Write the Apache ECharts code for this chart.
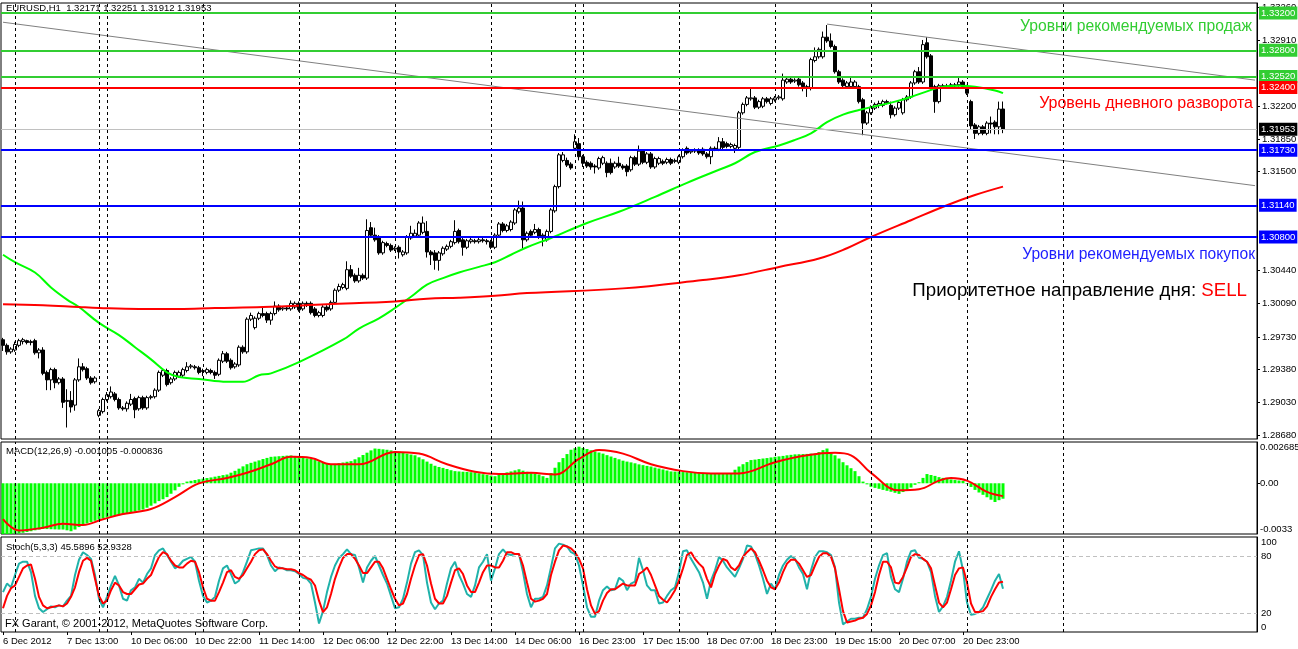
<!DOCTYPE html>
<html>
<head>
<meta charset="utf-8">
<script src="https://cdn.jsdelivr.net/npm/echarts@6/dist/echarts.min.js"></script>
<style>
  html, body { margin: 0; padding: 0; background: #fff; }
  #app { width: 1298px; height: 649px; }
</style>
</head>
<body>
<div id="app"></div>
<script>
// bottom time labels, one every 16 hourly bars
const tickLabels = ['6 Dec 2012', '7 Dec 13:00', '10 Dec 06:00', '10 Dec 22:00', '11 Dec 14:00',
  '12 Dec 06:00', '12 Dec 22:00', '13 Dec 14:00', '14 Dec 06:00', '16 Dec 23:00', '17 Dec 15:00',
  '18 Dec 07:00', '18 Dec 23:00', '19 Dec 15:00', '20 Dec 07:00', '20 Dec 23:00'];
// bar index of each day separator
const daySeparators = [3, 24, 26, 50, 74, 98, 122, 143, 145, 169, 193, 217, 241, 265];
const priceTicks = [1.3326, 1.3291, 1.3220, 1.3185, 1.3150, 1.3044, 1.3009, 1.2973, 1.2938, 1.2903, 1.2868];

const sellLevels = [1.3320, 1.3280, 1.3252];
const pivotLevel = 1.3240;
const buyLevels = [1.3173, 1.3114, 1.3080];
const lastPrice = 1.31953;

// EURUSD H1: [open, close, low, high]
const candles = [
  [1.2970,1.2964,1.2958,1.2972],[1.2964,1.2957,1.2954,1.2966],[1.2957,1.2960,1.2955,1.2962],[1.2959,1.2965,1.2957,1.2968],[1.2964,1.2969,1.2962,1.2971],
  [1.2968,1.2970,1.2965,1.2972],[1.2969,1.2967,1.2965,1.2970],[1.2967,1.2968,1.2964,1.2970],[1.2969,1.2956,1.2954,1.2971],[1.2956,1.2959,1.2950,1.2961],
  [1.2959,1.2934,1.2932,1.2962],[1.2935,1.2927,1.2916,1.2937],[1.2927,1.2938,1.2916,1.2940],[1.2938,1.2924,1.2918,1.2940],[1.2924,1.2928,1.2922,1.2930],
  [1.2928,1.2903,1.2897,1.2930],[1.2904,1.2905,1.2876,1.2917],[1.2905,1.2898,1.2892,1.2915],[1.2900,1.2927,1.2894,1.2929],[1.2927,1.2941,1.2925,1.2950],
  [1.2941,1.2938,1.2936,1.2945],[1.2939,1.2929,1.2927,1.2941],[1.2929,1.2924,1.2922,1.2931],[1.2925,1.2929,1.2923,1.2931],[1.2889,1.2894,1.2887,1.2896],
  [1.2893,1.2906,1.2891,1.2908],[1.2906,1.2911,1.2904,1.2914],[1.2909,1.2914,1.2907,1.2920],[1.2912,1.2906,1.2904,1.2914],[1.2906,1.2897,1.2895,1.2908],
  [1.2897,1.2896,1.2894,1.2899],[1.2896,1.2902,1.2893,1.2904],[1.2901,1.2906,1.2899,1.2912],[1.2907,1.2895,1.2886,1.2909],[1.2896,1.2908,1.2894,1.2910],
  [1.2908,1.2897,1.2895,1.2910],[1.2897,1.2908,1.2895,1.2910],[1.2908,1.2909,1.2906,1.2911],[1.2909,1.2916,1.2907,1.2918],[1.2916,1.2935,1.2914,1.2937],
  [1.2932,1.2937,1.2930,1.2939],[1.2937,1.2922,1.2920,1.2939],[1.2924,1.2928,1.2922,1.2930],[1.2928,1.2935,1.2926,1.2937],[1.2931,1.2935,1.2929,1.2937],
  [1.2932,1.2938,1.2930,1.2940],[1.2937,1.2941,1.2935,1.2946],[1.2941,1.2942,1.2939,1.2944],[1.2941,1.2940,1.2938,1.2943],[1.2940,1.2935,1.2933,1.2942],
  [1.2936,1.2937,1.2931,1.2939],[1.2935,1.2938,1.2933,1.2940],[1.2937,1.2935,1.2933,1.2939],[1.2935,1.2932,1.2928,1.2937],[1.2933,1.2948,1.2931,1.2950],
  [1.2947,1.2955,1.2945,1.2958],[1.2955,1.2947,1.2945,1.2957],[1.2948,1.2940,1.2938,1.2950],[1.2941,1.2944,1.2939,1.2946],[1.2943,1.2962,1.2941,1.2964],
  [1.2962,1.2957,1.2955,1.2964],[1.2957,1.2992,1.2955,1.2994],[1.2992,1.2996,1.2990,1.2999],[1.2983,1.2993,1.2981,1.2995],[1.2993,1.2998,1.2991,1.3000],
  [1.2998,1.2996,1.2994,1.3006],[1.2998,1.2991,1.2988,1.3000],[1.2991,1.2998,1.2986,1.3000],[1.2998,1.3006,1.2996,1.3011],[1.3006,1.3002,1.3000,1.3008],
  [1.3003,1.3004,1.3001,1.3006],[1.3004,1.3003,1.3001,1.3006],[1.3003,1.3009,1.3001,1.3012],[1.3005,1.3009,1.3003,1.3011],[1.3009,1.3002,1.3000,1.3011],
  [1.3003,1.3009,1.3001,1.3011],[1.3009,1.3007,1.3005,1.3011],[1.3009,1.2999,1.2997,1.3011],[1.3003,1.2996,1.2994,1.3005],[1.2996,1.2999,1.2994,1.3001],
  [1.2996,1.3005,1.2994,1.3007],[1.3005,1.3002,1.3000,1.3007],[1.3003,1.3010,1.3001,1.3012],[1.3010,1.3023,1.3008,1.3025],[1.3023,1.3027,1.3021,1.3030],
  [1.3026,1.3029,1.3024,1.3031],[1.3025,1.3045,1.3023,1.3054],[1.3045,1.3038,1.3036,1.3050],[1.3039,1.3033,1.3031,1.3041],[1.3033,1.3039,1.3031,1.3047],
  [1.3039,1.3036,1.3034,1.3041],[1.3036,1.3087,1.3034,1.3099],[1.3090,1.3082,1.3080,1.3096],[1.3082,1.3077,1.3075,1.3090],[1.3080,1.3063,1.3061,1.3082],
  [1.3063,1.3074,1.3061,1.3076],[1.3073,1.3071,1.3069,1.3075],[1.3071,1.3066,1.3064,1.3073],[1.3067,1.3068,1.3065,1.3070],[1.3069,1.3064,1.3057,1.3071],
  [1.3061,1.3064,1.3059,1.3066],[1.3063,1.3080,1.3061,1.3082],[1.3079,1.3084,1.3077,1.3092],[1.3081,1.3084,1.3079,1.3088],[1.3082,1.3095,1.3080,1.3097],
  [1.3085,1.3095,1.3083,1.3102],[1.3086,1.3064,1.3058,1.3097],[1.3064,1.3061,1.3050,1.3066],[1.3063,1.3055,1.3045,1.3066],[1.3055,1.3063,1.3044,1.3065],
  [1.3062,1.3068,1.3060,1.3070],[1.3067,1.3070,1.3065,1.3072],[1.3070,1.3075,1.3068,1.3077],[1.3074,1.3086,1.3072,1.3098],[1.3087,1.3075,1.3073,1.3089],
  [1.3077,1.3069,1.3060,1.3079],[1.3069,1.3076,1.3067,1.3078],[1.3075,1.3077,1.3073,1.3079],[1.3076,1.3075,1.3073,1.3078],[1.3075,1.3077,1.3073,1.3079],
  [1.3077,1.3076,1.3074,1.3079],[1.3076,1.3075,1.3072,1.3078],[1.3075,1.3069,1.3067,1.3077],[1.3069,1.3082,1.3067,1.3084],[1.3082,1.3094,1.3080,1.3096],
  [1.3094,1.3087,1.3085,1.3096],[1.3087,1.3092,1.3085,1.3094],[1.3088,1.3096,1.3086,1.3098],[1.3095,1.3109,1.3093,1.3111],[1.3107,1.3111,1.3105,1.3119],
  [1.3111,1.3077,1.3068,1.3118],[1.3077,1.3084,1.3075,1.3086],[1.3086,1.3082,1.3080,1.3088],[1.3085,1.3088,1.3083,1.3094],[1.3088,1.3080,1.3078,1.3090],
  [1.3082,1.3079,1.3070,1.3084],[1.3077,1.3086,1.3075,1.3088],[1.3086,1.3109,1.3084,1.3111],[1.3108,1.3134,1.3106,1.3136],[1.3134,1.3168,1.3132,1.3170],
  [1.3162,1.3168,1.3160,1.3171],[1.3162,1.3157,1.3155,1.3165],[1.3158,1.3154,1.3152,1.3160],[1.3175,1.3182,1.3173,1.3190],[1.3180,1.3166,1.3162,1.3186],
  [1.3166,1.3159,1.3155,1.3168],[1.3160,1.3156,1.3154,1.3162],[1.3159,1.3155,1.3152,1.3161],[1.3156,1.3155,1.3148,1.3158],[1.3154,1.3164,1.3152,1.3166],
  [1.3159,1.3165,1.3157,1.3167],[1.3159,1.3149,1.3144,1.3161],[1.3159,1.3149,1.3147,1.3164],[1.3155,1.3159,1.3153,1.3161],[1.3159,1.3156,1.3154,1.3166],
  [1.3156,1.3154,1.3152,1.3158],[1.3156,1.3150,1.3145,1.3158],[1.3152,1.3165,1.3150,1.3167],[1.3165,1.3158,1.3156,1.3167],[1.3158,1.3172,1.3156,1.3178],
  [1.3172,1.3160,1.3158,1.3174],[1.3160,1.3169,1.3158,1.3171],[1.3169,1.3155,1.3153,1.3171],[1.3155,1.3164,1.3153,1.3166],[1.3159,1.3164,1.3157,1.3166],
  [1.3161,1.3159,1.3157,1.3163],[1.3160,1.3163,1.3158,1.3165],[1.3163,1.3159,1.3157,1.3165],[1.3161,1.3162,1.3159,1.3164],[1.3160,1.3166,1.3158,1.3168],
  [1.3166,1.3173,1.3164,1.3175],[1.3175,1.3170,1.3168,1.3177],[1.3171,1.3172,1.3169,1.3174],[1.3172,1.3173,1.3170,1.3175],[1.3173,1.3170,1.3168,1.3175],
  [1.3174,1.3169,1.3167,1.3176],[1.3169,1.3166,1.3164,1.3171],[1.3166,1.3175,1.3158,1.3177],[1.3175,1.3174,1.3172,1.3177],[1.3174,1.3182,1.3172,1.3187],
  [1.3182,1.3176,1.3174,1.3186],[1.3180,1.3177,1.3175,1.3182],[1.3177,1.3179,1.3175,1.3181],[1.3175,1.3178,1.3170,1.3180],[1.3176,1.3213,1.3174,1.3215],
  [1.3213,1.3222,1.3211,1.3224],[1.3222,1.3229,1.3220,1.3231],[1.3228,1.3229,1.3226,1.3240],[1.3229,1.3219,1.3217,1.3231],[1.3219,1.3225,1.3217,1.3227],
  [1.3220,1.3228,1.3218,1.3230],[1.3228,1.3225,1.3223,1.3230],[1.3223,1.3228,1.3221,1.3230],[1.3227,1.3229,1.3225,1.3231],[1.3229,1.3230,1.3227,1.3232],
  [1.3228,1.3248,1.3226,1.3255],[1.3246,1.3249,1.3244,1.3251],[1.3249,1.3246,1.3244,1.3251],[1.3247,1.3248,1.3245,1.3250],[1.3249,1.3243,1.3241,1.3251],
  [1.3245,1.3241,1.3236,1.3247],[1.3241,1.3239,1.3230,1.3243],[1.3239,1.3270,1.3237,1.3272],[1.3269,1.3273,1.3267,1.3283],[1.3273,1.3281,1.3271,1.3283],
  [1.3273,1.3294,1.3271,1.3300],[1.3294,1.3290,1.3288,1.3307],[1.3290,1.3284,1.3282,1.3298],[1.3284,1.3257,1.3255,1.3286],[1.3257,1.3246,1.3244,1.3259],
  [1.3248,1.3242,1.3240,1.3250],[1.3241,1.3245,1.3239,1.3247],[1.3241,1.3246,1.3239,1.3252],[1.3241,1.3246,1.3239,1.3248],[1.3241,1.3225,1.3223,1.3243],
  [1.3227,1.3202,1.3189,1.3229],[1.3202,1.3213,1.3200,1.3215],[1.3213,1.3219,1.3211,1.3221],[1.3218,1.3222,1.3216,1.3224],[1.3221,1.3223,1.3218,1.3226],
  [1.3221,1.3225,1.3219,1.3227],[1.3225,1.3224,1.3222,1.3227],[1.3221,1.3211,1.3207,1.3225],[1.3211,1.3218,1.3209,1.3220],[1.3218,1.3224,1.3216,1.3226],
  [1.3213,1.3227,1.3211,1.3229],[1.3227,1.3230,1.3225,1.3232],[1.3230,1.3245,1.3228,1.3247],[1.3245,1.3257,1.3243,1.3259],[1.3257,1.3246,1.3244,1.3262],
  [1.3246,1.3286,1.3244,1.3291],[1.3288,1.3273,1.3271,1.3294],[1.3274,1.3240,1.3238,1.3276],[1.3241,1.3225,1.3213,1.3243],[1.3225,1.3242,1.3223,1.3244],
  [1.3242,1.3241,1.3239,1.3244],[1.3241,1.3242,1.3239,1.3244],[1.3241,1.3243,1.3239,1.3245],[1.3242,1.3243,1.3240,1.3245],[1.3243,1.3246,1.3241,1.3251],
  [1.3246,1.3241,1.3239,1.3248],[1.3241,1.3234,1.3232,1.3243],[1.3225,1.3199,1.3195,1.3227],[1.3200,1.3191,1.3185,1.3202],[1.3191,1.3198,1.3189,1.3200],
  [1.3198,1.3191,1.3189,1.3200],[1.3191,1.3202,1.3189,1.3204],[1.3202,1.3201,1.3191,1.3209],[1.3203,1.3198,1.3190,1.3205],[1.3198,1.3217,1.3190,1.3225],
  [1.32171,1.31953,1.31912,1.32251]
];

// moving averages, read at [bar, price]
const maFast = [[0,1.3061],[3,1.3053],[8,1.3042],[12,1.3026],[16,1.3013],[19,1.3005],[24,1.2988],[29,1.2975],[33,1.2962],
  [37,1.2949],[41,1.2935],[44,1.2930],[49,1.2928],[56,1.2925],[60,1.2925],[64,1.2932],[67,1.2934],[74,1.2946],[85,1.2970],
  [89,1.2982],[94,1.2993],[98,1.3004],[102,1.3016],[106,1.3029],[110,1.3036],[114,1.3042],[119,1.3048],[123,1.3053],
  [127,1.3061],[131,1.3069],[137,1.3079],[146,1.3095],[154,1.3107],[163,1.3123],[171,1.3138],[179,1.3152],[183,1.3159],
  [188,1.3171],[194,1.3178],[198,1.3184],[202,1.3191],[206,1.3203],[210,1.3211],[214,1.3216],[218,1.3220],[223,1.3225],
  [227,1.3230],[231,1.3236],[235,1.3241],[239,1.3242],[243,1.3241],[248,1.3237],[250,1.3234]];
const maSlow = [[0,1.3008],[10,1.3007],[19,1.3005],[24,1.3004],[34,1.3003],[44,1.3003],[53,1.3004],[65,1.3005],[81,1.3008],
  [98,1.3011],[106,1.3014],[114,1.3015],[123,1.3017],[131,1.3020],[155,1.3025],[175,1.3034],[184,1.3039],[194,1.3048],
  [204,1.3057],[211,1.3068],[217,1.3080],[227,1.3098],[236,1.3114],[243,1.3125],[250,1.3134]];

// trend lines [bar, price]
const trendLow = [[0, 1.3310], [313, 1.3135]];
const trendHigh = [[206, 1.3308], [313, 1.3248]];

// MACD(12,26,9) histogram, one value per bar
const macdHist = [
  -0.00330,-0.00331,-0.00330,-0.00328,-0.00327,-0.00322,-0.00317,-0.00312,-0.00306,-0.00301,
  -0.00297,-0.00298,-0.00299,-0.00300,-0.00301,-0.00301,-0.00306,-0.00312,-0.00301,-0.00285,
  -0.00270,-0.00261,-0.00253,-0.00244,-0.00236,-0.00228,-0.00222,-0.00217,-0.00213,-0.00208,
  -0.00203,-0.00197,-0.00191,-0.00184,-0.00177,-0.00171,-0.00159,-0.00146,-0.00131,-0.00116,
  -0.00104,-0.00090,-0.00068,-0.00046,-0.00023,-0.00007,0.00011,0.00016,0.00021,0.00026,
  0.00030,0.00034,0.00038,0.00043,0.00048,0.00053,0.00057,0.00069,0.00081,0.00095,
  0.00110,0.00124,0.00133,0.00141,0.00149,0.00158,0.00165,0.00172,0.00174,0.00176,
  0.00178,0.00180,0.00181,0.00178,0.00173,0.00167,0.00162,0.00158,0.00151,0.00143,
  0.00136,0.00130,0.00124,0.00126,0.00131,0.00135,0.00140,0.00144,0.00156,0.00169,
  0.00184,0.00199,0.00214,0.00226,0.00224,0.00221,0.00218,0.00214,0.00210,0.00205,
  0.00199,0.00193,0.00187,0.00182,0.00169,0.00156,0.00141,0.00127,0.00114,0.00106,
  0.00100,0.00093,0.00085,0.00079,0.00077,0.00075,0.00074,0.00072,0.00071,0.00065,
  0.00059,0.00054,0.00050,0.00046,0.00054,0.00062,0.00071,0.00077,0.00084,0.00091,
  0.00082,0.00075,0.00069,0.00062,0.00057,0.00046,0.00035,0.00067,0.00101,0.00137,
  0.00164,0.00190,0.00218,0.00228,0.00238,0.00230,0.00223,0.00215,0.00207,0.00200,
  0.00193,0.00183,0.00174,0.00165,0.00156,0.00147,0.00141,0.00136,0.00130,0.00123,
  0.00118,0.00113,0.00109,0.00102,0.00096,0.00090,0.00083,0.00077,0.00076,0.00075,
  0.00073,0.00072,0.00071,0.00070,0.00069,0.00068,0.00065,0.00064,0.00064,0.00064,
  0.00064,0.00064,0.00064,0.00088,0.00109,0.00124,0.00138,0.00151,0.00154,0.00158,
  0.00161,0.00164,0.00168,0.00172,0.00175,0.00178,0.00182,0.00185,0.00188,0.00189,
  0.00190,0.00191,0.00193,0.00193,0.00203,0.00216,0.00226,0.00203,0.00182,0.00161,
  0.00137,0.00117,0.00098,0.00079,0.00046,0.00011,-0.00007,-0.00023,-0.00030,-0.00036,
  -0.00043,-0.00049,-0.00055,-0.00062,-0.00069,-0.00057,-0.00044,-0.00028,-0.00010,0.00007,
  0.00035,0.00060,0.00054,0.00048,0.00040,0.00035,0.00030,0.00025,0.00021,0.00018,
  0.00015,-0.00005,-0.00024,-0.00043,-0.00060,-0.00075,-0.00091,-0.00107,-0.00122,-0.00110,
  -0.001005
];
const macdSignal = [[0,-0.00234],[4,-0.00307],[10,-0.00289],[15,-0.00264],[20,-0.00271],[25,-0.00234],[30,-0.00200],
  [37,-0.00167],[43,-0.00090],[49,-0.00001],[56,0.00034],[61,0.00068],[67,0.00124],[72,0.00172],[77,0.00165],
  [82,0.00124],[89,0.00124],[98,0.00204],[104,0.00193],[111,0.00124],[118,0.00075],[124,0.00060],[132,0.00068],
  [138,0.00057],[144,0.00158],[149,0.00216],[155,0.00193],[162,0.00124],[170,0.00079],[177,0.00064],[184,0.00064],
  [193,0.00137],[201,0.00182],[208,0.00198],[212,0.00182],[217,0.00068],[224,-0.00046],[229,-0.00039],[234,0.00017],
  [237,0.00034],[241,0.00017],[246,-0.00056],[250,-0.000836]];

// Stochastic(5,3,3), one value per bar
const stochMain = [
  42,51,47,60,72,74,74,63,38,25, 21,24,27,26,28,27,33,38,60,76,
  84,81,77,60,35,26,37,49,59,49, 35,33,44,47,56,52,61,67,81,86,
  88,81,74,67,70,75,77,79,74,54, 38,31,33,37,54,67,70,61,51,54,
  63,74,86,87,88,88,81,70,64,68, 67,65,65,64,61,57,56,51,31,9,
  22,42,58,70,78,82,87,82,81,68, 52,68,75,80,70,60,51,38,25,26,
  35,52,72,84,86,81,52,31,24,30, 33,51,67,74,60,51,40,37,49,68,
  74,82,54,67,82,87,82,81,82,82, 63,40,26,35,35,37,49,68,88,93,
  92,90,84,82,70,49,26,16,16,33, 44,48,44,45,57,54,44,51,53,78,
  65,49,44,44,30,31,38,44,47,63, 85,86,77,70,63,52,35,54,65,79,
  75,68,63,58,67,77,91,90,82,70, 56,40,51,45,60,70,76,80,77,68,
  61,45,65,79,85,85,84,81,68,31, 8,11,14,14,15,15,24,37,56,70,
  81,83,58,45,42,56,74,85,86,78, 77,74,63,38,21,27,37,54,74,85,
  65,31,18,19,21,26,35,44,54,61, 45.5896
];
const stochSignal = [
  25,38,46,49,58,67,70,71,56,37, 28,25,26,27,28,27,30,37,47,63,
  75,78,75,56,38,30,33,44,52,49, 42,40,40,45,50,51,56,60,70,79,
  84,82,75,70,68,68,72,75,74,63, 47,35,33,33,42,52,63,65,58,56,
  60,67,74,82,86,87,82,75,69,67, 67,66,66,65,62,60,57,55,49,33,
  21,26,40,56,68,78,82,82,77,70, 62,62,68,74,74,67,56,45,35,28,
  30,40,56,70,81,82,70,51,35,30, 30,38,52,65,67,61,49,42,42,52,
  63,70,70,68,68,75,84,84,82,82, 70,52,35,32,33,35,40,60,74,86,
  91,90,88,84,77,67,45,28,19,22, 33,41,45,45,48,51,49,49,49,61,
  64,68,60,49,38,34,31,37,44,54, 67,81,84,77,72,68,56,47,61,70,
  77,75,68,65,70,79,84,88,84,75, 65,54,47,45,52,63,72,76,76,72,
  65,58,60,70,79,83,83,79,67,45, 22,10,11,12,14,15,19,28,42,60,
  74,74,68,52,51,58,68,79,82,81, 77,74,67,49,31,26,31,45,60,67,
  68,52,30,21,21,22,27,37,45,52, 52.9328
];

const FONT = '"Liberation Sans", Arial, sans-serif';
const N = 314; // hourly slots across the plot, including empty space on the right
const cats = [];
for (let i = 0; i < N; i++) cats.push(String(i));
function tickText(i) {
  return i % 16 === 0 && i / 16 < tickLabels.length ? tickLabels[i / 16] : '';
}

const sepData = daySeparators.map((i) => ({ xAxis: i }));
const sepLine = {
  symbol: 'none', silent: true, precision: 6, label: { show: false },
  lineStyle: { color: '#000', width: 1, type: [3, 3] },
};

function levelLine(value, color, text) {
  return {
    yAxis: value,
    lineStyle: { color: color, width: 2, type: 'solid' },
    label: {
      show: true, position: 'end', distance: 2, formatter: text,
      backgroundColor: color, color: '#fff',
      padding: [2, 2, 1, 2], fontSize: 9.5, fontFamily: FONT,
    },
  };
}

const levelData = []
  .concat(sellLevels.map((v) => levelLine(v, '#32cd32', v.toFixed(5))))
  .concat([levelLine(pivotLevel, '#ff0000', pivotLevel.toFixed(5))])
  .concat(buyLevels.map((v) => levelLine(v, '#0000ff', v.toFixed(5))));
const lastLine = levelLine(lastPrice, '#000', lastPrice.toFixed(5));
lastLine.lineStyle = { color: '#c0c0c0', width: 1, type: 'solid' };

const gridBase = { left: 1, width: 1256, show: true, borderColor: '#000', borderWidth: 1, backgroundColor: '#fff', outerBoundsMode: 'none', containLabel: false };

const eChart = echarts.init(document.getElementById('app'));
const option = {
  animation: false,
  backgroundColor: '#fff',
  grid: [
    Object.assign({ top: 3, height: 436 }, gridBase),
    Object.assign({ top: 442, height: 92 }, gridBase),
    Object.assign({ top: 537, height: 95 }, gridBase),
  ],
  xAxis: [0, 1, 2].map((g) => ({
    type: 'category', gridIndex: g, data: cats, boundaryGap: true,
    axisLine: { show: false },
    splitLine: { show: false },
    axisTick: g === 2
      ? { show: true, interval: (i) => tickText(i) !== '', alignWithLabel: true, length: 3, lineStyle: { color: '#000' } }
      : { show: false },
    axisLabel: g === 2
      ? { show: true, interval: (i) => tickText(i) !== '', formatter: (v, i) => tickText(+v), align: 'left', margin: 4,
          fontSize: 9.5, color: '#000', fontFamily: FONT, hideOverlap: false }
      : { show: false },
  })),
  yAxis: [
    {
      type: 'value', gridIndex: 0, position: 'right', min: 1.28637, max: 1.33306, scale: true,
      splitLine: { show: false },
      axisLine: { show: true, lineStyle: { color: '#000' } },
      axisTick: { show: true, customValues: priceTicks, length: 3, lineStyle: { color: '#000' } },
      axisLabel: { customValues: priceTicks, formatter: (v) => v.toFixed(5), fontSize: 9.5, color: '#000', margin: 5, fontFamily: FONT },
    },
    {
      type: 'value', gridIndex: 1, position: 'right', min: -0.0033, max: 0.002685,
      splitLine: { show: false },
      axisLine: { show: true, lineStyle: { color: '#000' } },
      axisTick: { show: true, customValues: [0], length: 3, lineStyle: { color: '#000' } },
      axisLabel: {
        customValues: [-0.0033, 0, 0.002685],
        formatter: (v) => (v === 0 ? '0.00' : v > 0 ? '0.002685' : '-0.0033'),
        verticalAlignMaxLabel: 'top', verticalAlignMinLabel: 'bottom',
        fontSize: 9.5, color: '#000', margin: 3, fontFamily: FONT,
      },
    },
    {
      type: 'value', gridIndex: 2, position: 'right', min: 0, max: 100,
      splitLine: { show: false },
      axisLine: { show: true, lineStyle: { color: '#000' } },
      axisTick: { show: false },
      axisLabel: {
        customValues: [0, 20, 80, 100],
        verticalAlignMaxLabel: 'top', verticalAlignMinLabel: 'bottom',
        fontSize: 9.5, color: '#000', margin: 4, fontFamily: FONT,
      },
    },
  ],
  series: [
    {
      type: 'line', name: 'trendLow', xAxisIndex: 0, yAxisIndex: 0, data: trendLow,
      symbol: 'none', lineStyle: { color: '#808080', width: 1 }, silent: true,
    },
    {
      type: 'line', name: 'trendHigh', xAxisIndex: 0, yAxisIndex: 0, data: trendHigh,
      symbol: 'none', lineStyle: { color: '#808080', width: 1 }, silent: true,
    },
    {
      type: 'candlestick', name: 'EURUSD', xAxisIndex: 0, yAxisIndex: 0, data: candles, barWidth: 3,
      itemStyle: { color: '#fff', color0: '#000', borderColor: '#000', borderColor0: '#000', borderWidth: 1 },
      markLine: Object.assign({}, sepLine, { data: sepData.concat([lastLine]).concat(levelData) }),
    },
    {
      type: 'line', name: 'maFast', xAxisIndex: 0, yAxisIndex: 0, data: maFast, smooth: 0.4,
      symbol: 'none', lineStyle: { color: '#00ff00', width: 2 },
    },
    {
      type: 'line', name: 'maSlow', xAxisIndex: 0, yAxisIndex: 0, data: maSlow, smooth: 0.4,
      symbol: 'none', lineStyle: { color: '#ff0000', width: 2 },
    },
    {
      type: 'bar', name: 'MACD', xAxisIndex: 1, yAxisIndex: 1, data: macdHist, barWidth: 3,
      itemStyle: { color: '#00ff00' },
      markLine: Object.assign({}, sepLine, { data: sepData }),
    },
    {
      type: 'line', name: 'Signal', xAxisIndex: 1, yAxisIndex: 1, data: macdSignal, smooth: 0.4,
      symbol: 'none', lineStyle: { color: '#ff0000', width: 2 },
    },
    {
      type: 'line', name: 'Stoch', xAxisIndex: 2, yAxisIndex: 2, data: stochMain,
      symbol: 'none', lineStyle: { color: '#20b2aa', width: 2 },
      markLine: Object.assign({}, sepLine, {
        data: sepData.concat([
          { yAxis: 80, lineStyle: { color: '#c0c0c0', type: [4, 3], width: 1 } },
          { yAxis: 20, lineStyle: { color: '#c0c0c0', type: [4, 3], width: 1 } },
        ]),
      }),
    },
    {
      type: 'line', name: 'StochSignal', xAxisIndex: 2, yAxisIndex: 2, data: stochSignal,
      symbol: 'none', lineStyle: { color: '#ff0000', width: 2 },
    },
  ],
  graphic: [
    { type: 'text', left: 6, top: 3, z: 100, style: { text: 'EURUSD,H1  1.32171 1.32251 1.31912 1.31953', fill: '#000', font: '9.5px ' + FONT } },
    { type: 'text', right: 46, top: 19, z: 100, style: { text: 'Уровни рекомендуемых продаж', fill: '#32cd32', font: '15.7px ' + FONT } },
    { type: 'text', right: 45, top: 96, z: 100, style: { text: 'Уровень дневного разворота', fill: '#ff0000', font: '16px ' + FONT } },
    { type: 'text', right: 43, top: 247, z: 100, style: { text: 'Уровни рекомендуемых покупок', fill: '#1e1eff', font: '15.6px ' + FONT } },
    {
      type: 'text', right: 51, top: 281, z: 100,
      style: {
        text: '{a|Приоритетное направление дня: }{s|SELL}',
        rich: {
          a: { fill: '#000', font: '18.7px ' + FONT },
          s: { fill: '#ff0000', font: '18.7px ' + FONT },
        },
      },
    },
    { type: 'text', left: 6, top: 446, z: 100, style: { text: 'MACD(12,26,9) -0.001005 -0.000836', fill: '#000', font: '9.5px ' + FONT } },
    { type: 'text', left: 6, top: 542, z: 100, style: { text: 'Stoch(5,3,3) 45.5896 52.9328', fill: '#000', font: '9.5px ' + FONT } },
    { type: 'text', left: 5, top: 618, z: 100, style: { text: 'FX Garant, © 2001-2012, MetaQuotes Software Corp.', fill: '#000', font: '11px ' + FONT } },
  ],
};
eChart.setOption(option);
</script>
</body>
</html>
